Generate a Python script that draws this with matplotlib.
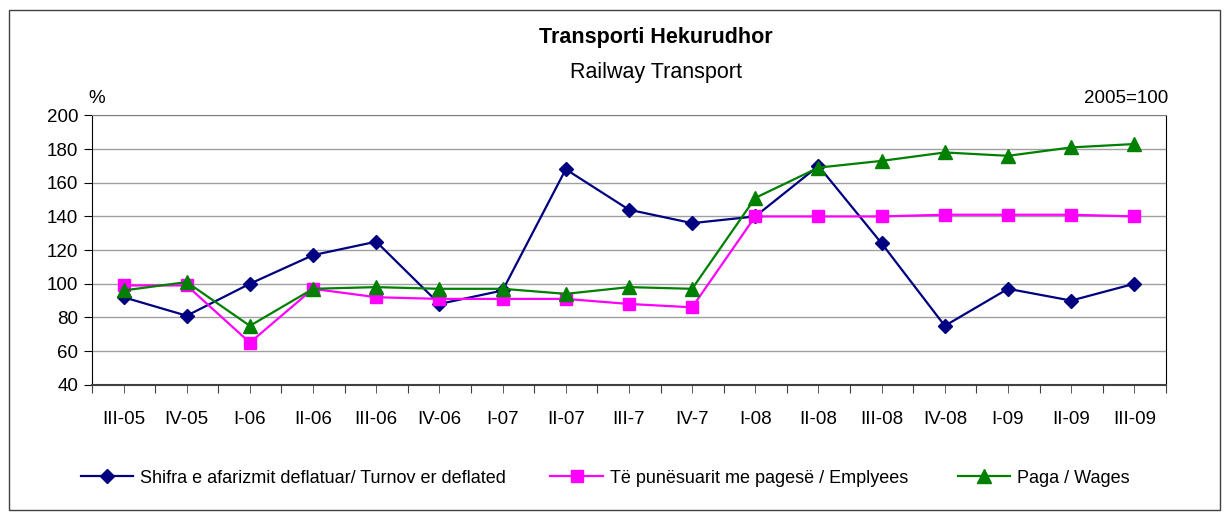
import matplotlib
matplotlib.use("Agg")
import matplotlib.pyplot as plt
from matplotlib.patches import Rectangle

plt.rcParams['font.family'] = ['Liberation Sans', 'DejaVu Sans']

quarters = ['III-05', 'IV-05', 'I-06', 'II-06', 'III-06', 'IV-06', 'I-07', 'II-07',
            'III-7', 'IV-7', 'I-08', 'II-08', 'III-08', 'IV-08', 'I-09', 'II-09', 'III-09']
turnover = [92, 81, 100, 117, 125, 88, 96, 168, 144, 136, 140, 170, 124, 75, 97, 90, 100]
employees = [99, 99, 65, 97, 92, 91, 91, 91, 88, 86, 140, 140, 140, 141, 141, 141, 140]
wages = [96, 101, 75, 97, 98, 97, 97, 94, 98, 97, 151, 169, 173, 178, 176, 181, 183]

labels = ['Shifra e afarizmit deflatuar/ Turnov er deflated',
          'Të punësuarit me pagesë / Emplyees',
          'Paga / Wages']

fig = plt.figure(figsize=(12.26, 5.13), dpi=100)
ax = fig.add_axes([0.075, 0.250, 0.876, 0.525])

x = list(range(len(quarters)))
l1, = ax.plot(x, turnover, color='#000080', lw=1.6, marker='D', ms=7.5, label=labels[0], zorder=3)
l2, = ax.plot(x, employees, color='#ff00ff', lw=1.6, marker='s', ms=9, label=labels[1], zorder=3)
l3, = ax.plot(x, wages, color='#008000', lw=1.6, marker='^', ms=10.5, label=labels[2], zorder=3)

ax.set_xlim(-0.5, len(quarters) - 0.5)
ax.set_ylim(40, 200)
ax.set_yticks(range(40, 201, 20))
ax.yaxis.grid(True, color='#a0a0a0', lw=1)
ax.set_axisbelow(True)

# ticks at category boundaries and centres, labels on the centres
ax.set_xticks([i - 0.5 for i in range(len(quarters) + 1)])
ax.set_xticklabels([])
ax.set_xticks(x, minor=True)
ax.set_xticklabels(quarters, minor=True)
ax.tick_params(axis='x', which='both', length=6, color='#404040', pad=13, labelsize=13.5)
ax.tick_params(axis='y', length=6, labelsize=13.5, pad=4)

ax.spines['top'].set_color('#808080')
ax.spines['bottom'].set_color('#404040')
ax.spines['bottom'].set_linewidth(1.5)
for s in ['left', 'right']:
    ax.spines[s].set_color('black')

fig.text(0.535, 0.927, 'Transporti Hekurudhor', ha='center', va='center',
         fontsize=15.5, fontweight='bold')
fig.text(0.535, 0.858, 'Railway Transport', ha='center', va='center', fontsize=15.5)
fig.text(0.079, 0.808, '%', ha='center', va='center', fontsize=13.5)
fig.text(0.953, 0.808, '2005=100', ha='right', va='center', fontsize=13.5)

# one legend per entry so the uneven gaps of the original can be kept
for h, lx in zip([l1, l2, l3], [0.066, 0.449, 0.781]):
    fig.legend(handles=[h], loc='center left', bbox_to_anchor=(lx, 0.068), frameon=False,
               fontsize=13, handlelength=2.9, handletextpad=0.4,
               borderpad=0, borderaxespad=0)

fig.add_artist(Rectangle((0.007, 0.006), 0.988, 0.975, transform=fig.transFigure,
                         fill=False, edgecolor='#404040', lw=1))

fig.savefig('out.png', dpi=100)
